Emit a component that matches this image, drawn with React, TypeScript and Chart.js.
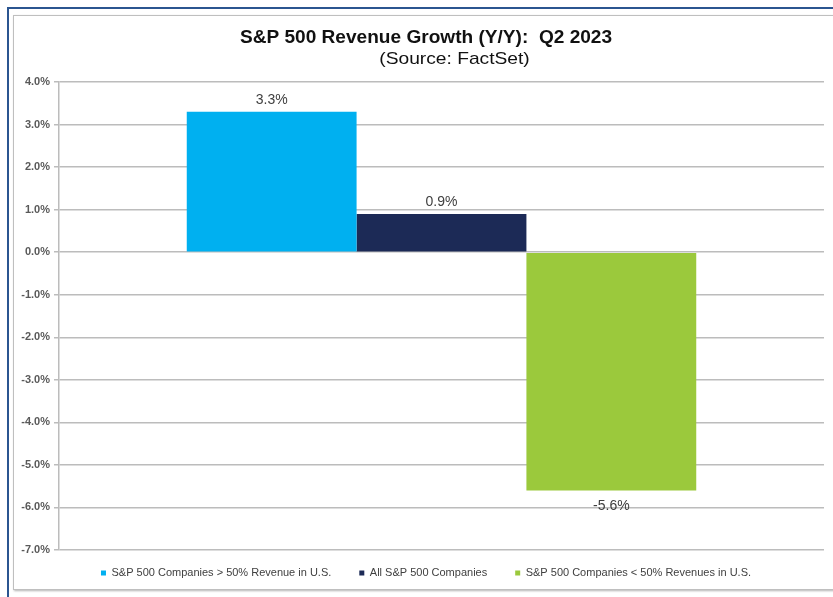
import React, { useEffect, useRef } from 'react';
import { Chart, registerables } from 'chart.js';

Chart.register(...registerables);

const TITLE = 'S&P 500 Revenue Growth (Y/Y):  Q2 2023';
const SUBTITLE = '(Source: FactSet)';
const CATEGORIES = ['Q2 2023'];
const SERIES_NAMES = [
  'S&P 500 Companies > 50% Revenue in U.S.',
  'All S&P 500 Companies',
  'S&P 500 Companies < 50% Revenues in U.S.',
];
const SERIES_ABOVE_50 = [3.3];
const SERIES_ALL = [0.9];
const SERIES_BELOW_50 = [-5.6];
const SERIES_COLORS = ['#00B0F0', '#1C2A56', '#9BC93C'];
const Y_MIN = -7;
const Y_MAX = 4;
const Y_STEP = 1;

const FONT = '"Liberation Sans", Arial, Helvetica, sans-serif';

function drawStretched(ctx: any, text: string, cx: number, cy: number, font: string, sx: number) {
  ctx.save();
  ctx.font = font;
  ctx.translate(cx, cy);
  ctx.scale(sx, 1);
  ctx.fillText(text, 0, 0);
  ctx.restore();
}

const headerPlugin = {
  id: 'headerText',
  afterDraw(chart: any) {
    const ctx = chart.ctx;
    ctx.save();
    ctx.fillStyle = '#111111';
    ctx.textAlign = 'center';
    ctx.textBaseline = 'middle';
    drawStretched(ctx, TITLE, 426, 38, `bold 18px ${FONT}`, 1.06);
    drawStretched(ctx, SUBTITLE, 454.5, 59.5, `17px ${FONT}`, 1.13);
    ctx.restore();
  },
};

const valueLabelPlugin = {
  id: 'valueLabels',
  afterDatasetsDraw(chart: any) {
    const ctx = chart.ctx;
    ctx.save();
    ctx.fillStyle = '#404040';
    ctx.textAlign = 'center';
    ctx.textBaseline = 'middle';
    ctx.font = `14px ${FONT}`;
    chart.data.datasets.forEach((ds: any, di: number) => {
      const meta = chart.getDatasetMeta(di);
      meta.data.forEach((el: any, i: number) => {
        const v = ds.data[i] as number;
        const y = v >= 0 ? el.y - 12 : el.y + 16;
        ctx.fillText(`${v.toFixed(1)}%`, el.x, y);
      });
    });
    ctx.restore();
  },
};

const legendShiftPlugin = {
  id: 'legendShift',
  afterLayout(chart: any) {
    const lg = chart.legend;
    if (lg) {
      lg.top -= 10.5;
      lg.bottom -= 10.5;
      lg.left += 14;
    }
  },
};

function ChartCanvas() {
  const ref = useRef<HTMLCanvasElement | null>(null);
  useEffect(() => {
    if (!ref.current) return;
    const grid = '#bcbcbc';
    const chart = new Chart(ref.current, {
      type: 'bar',
      data: {
        labels: CATEGORIES,
        datasets: [
          { label: SERIES_NAMES[0], data: SERIES_ABOVE_50, backgroundColor: SERIES_COLORS[0] },
          { label: SERIES_NAMES[1], data: SERIES_ALL, backgroundColor: SERIES_COLORS[1] },
          { label: SERIES_NAMES[2], data: SERIES_BELOW_50, backgroundColor: SERIES_COLORS[2] },
        ],
      },
      options: {
        responsive: false,
        animation: false,
        layout: { padding: { left: 14, right: 9, top: 82, bottom: 0 } },
        datasets: {
          bar: { categoryPercentage: 0.666, barPercentage: 1 },
        },
        scales: {
          x: { display: false },
          y: {
            min: Y_MIN,
            max: Y_MAX,
            afterFit: (s: any) => {
              s.width = 45;
            },
            ticks: {
              stepSize: Y_STEP,
              color: '#595959',
              padding: 4,
              font: { family: FONT, size: 11, weight: 'bold' },
              callback: (v: any) => `${Number(v).toFixed(1)}%`,
            },
            grid: { color: grid, lineWidth: 1.5, tickLength: 5, drawTicks: true },
            border: { display: true, color: grid, width: 1.5 },
          },
        },
        plugins: {
          title: { display: false },
          tooltip: { enabled: false },
          legend: {
            display: true,
            position: 'bottom',
            maxHeight: 47,
            labels: {
              boxWidth: 5,
              boxHeight: 5,
              padding: 28,
              color: '#404040',
              font: { family: FONT, size: 11 },
            },
          },
        },
      },
      plugins: [headerPlugin, valueLabelPlugin, legendShiftPlugin],
    } as any);
    return () => chart.destroy();
  }, []);
  return (
    <canvas
      ref={ref}
      width={833}
      height={597}
      style={{ position: 'absolute', left: 0, top: 0, width: 833, height: 597 }}
    />
  );
}

export default function App() {
  return (
    <div
      style={{
        position: 'fixed',
        left: 0,
        top: 0,
        width: 833,
        height: 597,
        background: '#ffffff',
        overflow: 'hidden',
      }}
    >
      <div
        style={{
          position: 'absolute',
          left: 7,
          top: 7,
          width: 860,
          height: 620,
          borderLeft: '2px solid #2B5590',
          borderTop: '2px solid #2B5590',
        }}
      />
      <div
        style={{
          position: 'absolute',
          left: 13,
          top: 15,
          width: 840,
          height: 575,
          boxSizing: 'border-box',
          border: '1px solid #bfbfbf',
          boxShadow: '1px 1px 2px rgba(0,0,0,0.3)',
        }}
      />
      <ChartCanvas />
    </div>
  );
}
